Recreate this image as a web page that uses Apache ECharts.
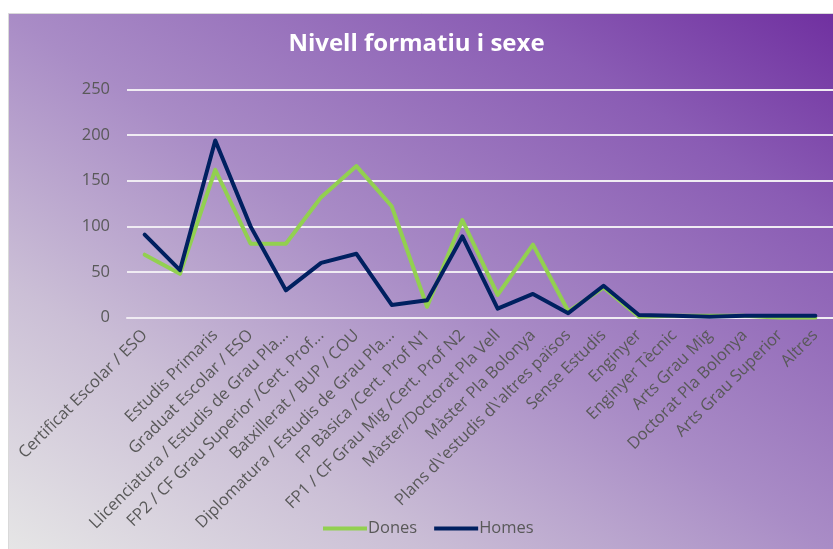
<!DOCTYPE html>
<html>
<head>
<meta charset="utf-8">
<script src="https://cdn.jsdelivr.net/npm/echarts@6/dist/echarts.min.js"></script>
<style>
html,body{margin:0;padding:0;background:#fff;}
#chart{width:833px;height:549px;}
</style>
</head>
<body>
<div id="chart"></div>
<script>
var categories = [
  "Certificat Escolar / ESO",
  "",
  "Estudis Primaris",
  "Graduat Escolar / ESO",
  "Llicenciatura / Estudis de Grau Pla...",
  "FP2 / CF Grau Superior /Cert. Prof...",
  "Batxillerat / BUP / COU",
  "Diplomatura / Estudis de Grau Pla...",
  "FP Bàsica /Cert. Prof N1",
  "FP1 / CF Grau Mig /Cert. Prof N2",
  "Màster/Doctorat Pla Vell",
  "Màster Pla Bolonya",
  "Plans d\\'estudis d\\'altres països",
  "Sense Estudis",
  "Enginyer",
  "Enginyer Tècnic",
  "Arts Grau Mig",
  "Doctorat Pla Bolonya",
  "Arts Grau Superior",
  "Altres"
];
var dones = [69, 48, 162, 81, 81, 132, 166, 122, 12, 107, 25, 80, 7, 33, 1, 2, 2, 2, 0, 0];
var homes = [91, 52, 194, 100, 30, 60, 70, 14, 19, 89, 10, 26, 5, 35, 3, 2, 1, 2, 2, 2];
var yTicks = { min: 0, max: 250, interval: 50 };

var chart = echarts.init(document.getElementById('chart'));
var font = "'Open Sans', sans-serif";
chart.setOption({
  backgroundColor: '#ffffff',
  animation: false,
  graphic: {
    elements: [{
      type: 'rect',
      z: -10,
      silent: true,
      shape: { x: 8.5, y: 13.5, width: 830, height: 540 },
      style: {
        fill: {
          type: 'linear', global: true,
          x: 176, y: 660, x2: 665, y2: -96,
          colorStops: [
            { offset: 0, color: '#e6e6e6' },
            { offset: 0.25, color: '#cbbfd6' },
            { offset: 0.5, color: '#a98cc6' },
            { offset: 0.8, color: '#8a5cb4' },
            { offset: 1, color: '#7030a0' }
          ]
        },
        stroke: '#d9d9d9',
        lineWidth: 1
      }
    }]
  },
  title: {
    text: 'Nivell formatiu i sexe',
    left: 'center',
    top: 27,
    textStyle: { color: '#ffffff', fontFamily: font, fontWeight: 'bold', fontSize: 24 }
  },
  legend: {
    bottom: 7,
    left: 318,
    icon: 'rect',
    itemWidth: 44,
    itemHeight: 4,
    itemGap: 17,
    textStyle: { color: '#595959', fontFamily: font, fontSize: 16.5, padding: [0, 0, 0, -4] },
    data: ['Dones', 'Homes']
  },
  grid: { left: 127, top: 89.4, width: 712, height: 228.3, containLabel: false },
  xAxis: {
    type: 'category',
    data: categories,
    boundaryGap: true,
    axisLine: { show: true, lineStyle: { color: '#f0ecf3', width: 2 } },
    axisTick: { show: false },
    axisLabel: {
      interval: 0,
      rotate: 45,
      margin: 15,
      color: '#595959',
      fontFamily: font,
      fontSize: 16.5
    }
  },
  yAxis: {
    type: 'value',
    min: yTicks.min,
    max: yTicks.max,
    interval: yTicks.interval,
    axisLine: { show: false },
    axisTick: { show: false },
    splitLine: { lineStyle: { color: '#f0ecf3', width: 2 } },
    axisLabel: { color: '#595959', fontFamily: font, fontSize: 16.5, margin: 17 }
  },
  series: [
    {
      name: 'Dones', type: 'line', data: dones,
      showSymbol: false, symbol: 'none',
      lineStyle: { color: '#92d050', width: 4, join: 'round', cap: 'round' },
      itemStyle: { color: '#92d050' }
    },
    {
      name: 'Homes', type: 'line', data: homes,
      showSymbol: false, symbol: 'none',
      lineStyle: { color: '#002060', width: 4, join: 'round', cap: 'round' },
      itemStyle: { color: '#002060' }
    }
  ]
});
</script>
</body>
</html>
